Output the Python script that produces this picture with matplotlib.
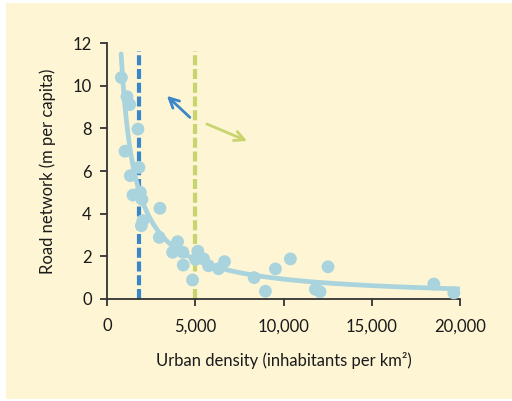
import numpy as np
import matplotlib.pyplot as plt
from matplotlib.patches import Rectangle

plt.rcParams['font.family'] = ['Lato', 'DejaVu Sans']

# urban density (inhabitants per km2) and road network (m per capita)
density = [814, 1131, 1284, 1753, 1018, 1810, 1323, 1471, 1889, 1980,
           2998, 2036, 1946, 2964, 3999, 3716, 4299, 4321, 5147, 5017,
           5470, 5752, 6318, 6657, 4847, 8337, 8976, 9542, 10390, 12522,
           11804, 12070, 18518, 19650]
road = [10.39, 9.49, 9.12, 7.97, 6.93, 6.17, 5.78, 4.87, 5.00, 4.67,
        4.25, 3.67, 3.43, 2.88, 2.68, 2.18, 2.18, 1.58, 2.23, 1.85,
        1.87, 1.55, 1.41, 1.74, 0.88, 0.99, 0.35, 1.40, 1.87, 1.50,
        0.44, 0.33, 0.69, 0.27]

# trend curve y = a * x^b
trend_a = 9200
trend_b = -1.0
trend_range = (800, 20000)

thresholds = [1800, 5000]
threshold_colors = ['#3a86c8', '#c8d46e']

bg = '#fdf5d4'
dot = '#a9d3dd'

fig = plt.figure(figsize=(5.12, 4.01), dpi=100)
fig.patches.append(Rectangle((6 / 512, 0.005), 1, 1 - 3 / 401 - 0.005,
                             transform=fig.transFigure, facecolor=bg,
                             edgecolor='none', zorder=-10))
ax = fig.add_axes([107 / 512, 1 - 298.7 / 401, (460 - 107) / 512, (298.7 - 43.3) / 401])
ax.set_facecolor('none')

for xv, c in zip(thresholds, threshold_colors):
    ax.plot([xv, xv], [0, 11.65], color=c, lw=3, dashes=(2.4, 0.9), zorder=1,
            solid_capstyle='butt', dash_capstyle='butt')

xs = np.linspace(trend_range[0], trend_range[1], 400)
ax.plot(xs, trend_a * xs ** trend_b, color=dot, lw=3.4, zorder=2, solid_capstyle='round')
ax.scatter(density, road, s=85, color=dot, edgecolors='none', zorder=3, clip_on=False)

arrow = '->,head_length=0.7,head_width=0.35'
ax.annotate('', xy=(3394, 9.53), xytext=(4695, 8.52),
            arrowprops=dict(arrowstyle=arrow, color=threshold_colors[0], lw=2,
                            shrinkA=0, shrinkB=0))
ax.annotate('', xy=(7941, 7.41), xytext=(5656, 8.21),
            arrowprops=dict(arrowstyle=arrow, color=threshold_colors[1], lw=2,
                            shrinkA=0, shrinkB=0))

ax.set_xlim(0, 20000)
ax.set_ylim(0, 12)
ax.set_xticks([0, 5000, 10000, 15000, 20000])
ax.set_xticklabels(['0', '5,000', '10,000', '15,000', '20,000'])
ax.set_yticks(range(0, 13, 2))
for s in ['top', 'right']:
    ax.spines[s].set_visible(False)
for s in ['left', 'bottom']:
    ax.spines[s].set_color('#333333')
    ax.spines[s].set_linewidth(1.3)
ax.tick_params(direction='out', length=5, width=1.3, color='#333333',
               labelsize=12, labelcolor='#1a1a1a', pad=6)
ax.tick_params(axis='x', pad=9)

ax.set_xlabel('Urban density (inhabitants per km²)', fontsize=12, color='#1a1a1a', labelpad=13)
ax.set_ylabel('Road network (m per capita)', fontsize=12, color='#1a1a1a', labelpad=12)

fig.savefig('out.png', dpi=100)
